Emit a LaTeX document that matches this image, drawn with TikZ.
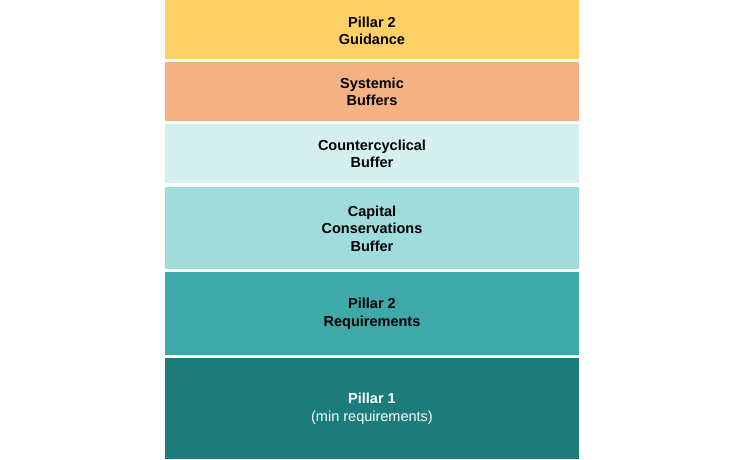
\documentclass[tikz,border=0pt]{standalone}
\usepackage{fontspec}
\setmainfont{Liberation Sans}
\definecolor{cA}{HTML}{FFD066}
\definecolor{cB}{HTML}{F4B183}
\definecolor{cC}{HTML}{D6EFEF}
\definecolor{cD}{HTML}{A1DCDC}
\definecolor{cE}{HTML}{3FA8A8}
\definecolor{cF}{HTML}{1C7B7B}
\tikzset{
  layer/.style={fill=#1, draw=none},
  lbl/.style={align=center, font=\fontsize{14.5pt}{17.6pt}\selectfont\bfseries, text=black, inner sep=0pt},
}
\begin{document}
\begin{tikzpicture}[x=1pt,y=-1pt]
\useasboundingbox (0,0) rectangle (744,459);
\fill[white] (0,0) rectangle (744,459);
\path[layer=cA] (165,0) rectangle (579,59) coordinate (a2);
\path[layer=cB] (165,62) rectangle (579,121);
\path[layer=cC] (165,124) rectangle (579,183);
\path[layer=cD] (165,187) rectangle (579,269);
\path[layer=cE] (165,272) rectangle (579,355);
\path[layer=cF] (165,358) rectangle (579,459);
\node[lbl] (t1) at (372,31) {Pillar 2\\Guidance};
\node[lbl] (t2) at (372,92) {Systemic\\Buffers};
\node[lbl] (t3) at (372,154) {Countercyclical\\Buffer};
\node[lbl] (t4) at (372,228.5) {Capital\\Conservations\\Buffer};
\node[lbl] (t5) at (372,314) {Pillar 2\\Requirements};
\node[lbl, text=white] (t6) at (372,408.5) {Pillar 1\\\mdseries(min requirements)};
\end{tikzpicture}
\end{document}
